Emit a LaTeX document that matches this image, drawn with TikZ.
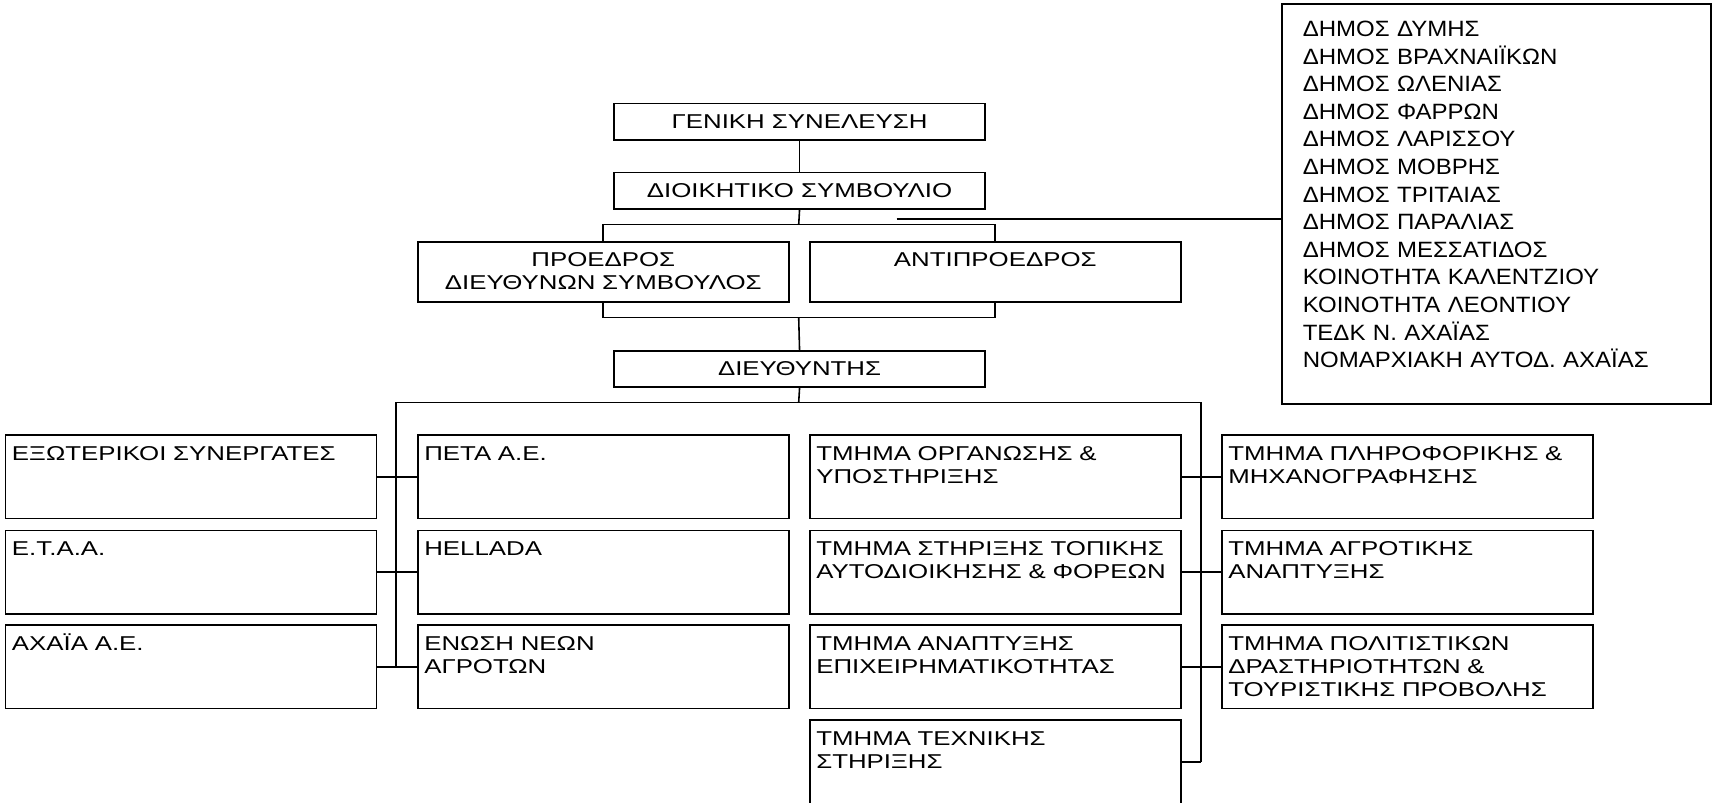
\documentclass[tikz,border=0pt]{standalone}
\usepackage{fontspec}
\setmainfont{Liberation Sans}
\newfontfamily\treefont{Liberation Sans}[FakeStretch=1.29]
\newfontfamily\listfont{Liberation Sans}[FakeStretch=1.085]
\usepackage{tikz}
\usetikzlibrary{positioning}

\begin{document}
\begin{tikzpicture}[
  x=0.02cm, y=-0.02cm,
  every node/.style={font=\treefont\fontsize{11.4}{13.2}\selectfont},
  box/.style={rectangle, draw=black, line width=0.9pt, fill=white,
              anchor=north west, inner sep=0pt},
  head/.style={box, minimum width=7.42cm, minimum height=0.73cm, align=center},
  chief/.style={box, text width=7.42cm, align=center,
                text height=0.5cm, text depth=0.7cm},
  dept/.style={box, inner xsep=0.13cm, text width=7.16cm, align=left,
               text height=0.5cm, text depth=1.17cm},
  members/.style={box, inner xsep=0.42cm, text width=7.74cm, align=left,
                  text height=0.65cm, text depth=7.35cm,
                  font=\listfont\fontsize{12.6}{15.7}\selectfont},
  conn/.style={draw=black, line width=0.9pt}
]
\useasboundingbox (0,0) rectangle (1712,803);

% --- Top of the hierarchy ---
\node[head] (gensyn) at (613.3,102.7) {ΓΕΝΙΚΗ ΣΥΝΕΛΕΥΣΗ};
\node[head] (dioik)  at (613.3,171.7) {ΔΙΟΙΚΗΤΙΚΟ ΣΥΜΒΟΥΛΙΟ};
\node[chief] (proedr) at (417,241) {ΠΡΟΕΔΡΟΣ\\ΔΙΕΥΘΥΝΩΝ ΣΥΜΒΟΥΛΟΣ};
\node[chief] (antipr) at (809,241) {ΑΝΤΙΠΡΟΕΔΡΟΣ};
\node[head] (dieuth) at (613.3,350) {ΔΙΕΥΘΥΝΤΗΣ};

% --- Shareholders ---
\node[members] (dimoi) at (1281,3.3) {ΔΗΜΟΣ ΔΥΜΗΣ\\ΔΗΜΟΣ ΒΡΑΧΝΑΙΪΚΩΝ\\ΔΗΜΟΣ ΩΛΕΝΙΑΣ\\ΔΗΜΟΣ ΦΑΡΡΩΝ\\ΔΗΜΟΣ ΛΑΡΙΣΣΟΥ\\ΔΗΜΟΣ ΜΟΒΡΗΣ\\ΔΗΜΟΣ ΤΡΙΤΑΙΑΣ\\ΔΗΜΟΣ ΠΑΡΑΛΙΑΣ\\ΔΗΜΟΣ ΜΕΣΣΑΤΙΔΟΣ\\ΚΟΙΝΟΤΗΤΑ ΚΑΛΕΝΤΖΙΟΥ\\ΚΟΙΝΟΤΗΤΑ ΛΕΟΝΤΙΟΥ\\ΤΕΔΚ Ν. ΑΧΑΪΑΣ\\ΝΟΜΑΡΧΙΑΚΗ ΑΥΤΟΔ. ΑΧΑΪΑΣ};

% --- Partners (left columns) ---
\node[dept] (exot)    at (4.7,434.3) {ΕΞΩΤΕΡΙΚΟΙ ΣΥΝΕΡΓΑΤΕΣ};
\node[dept] (etaa)    at (4.7,529.7) {Ε.Τ.Α.Α.};
\node[dept] (axaia)   at (4.7,624.3) {ΑΧΑΪΑ Α.Ε.};
\node[dept] (peta)    at (417,434.3) {ΠΕΤΑ Α.Ε.};
\node[dept] (hellada) at (417,529.7) {HELLADA};
\node[dept] (enosi)   at (417,624.3) {ΕΝΩΣΗ ΝΕΩΝ\\ΑΓΡΟΤΩΝ};

% --- Departments (right columns) ---
\node[dept] (organ)   at (809,434.3) {ΤΜΗΜΑ ΟΡΓΑΝΩΣΗΣ \&\\ΥΠΟΣΤΗΡΙΞΗΣ};
\node[dept] (stirixi) at (809,529.7) {ΤΜΗΜΑ ΣΤΗΡΙΞΗΣ ΤΟΠΙΚΗΣ\\ΑΥΤΟΔΙΟΙΚΗΣΗΣ \& ΦΟΡΕΩΝ};
\node[dept] (anapt)   at (809,624.3) {ΤΜΗΜΑ ΑΝΑΠΤΥΞΗΣ\\ΕΠΙΧΕΙΡΗΜΑΤΙΚΟΤΗΤΑΣ};
\node[dept] (texn)    at (809,719.3) {ΤΜΗΜΑ ΤΕΧΝΙΚΗΣ\\ΣΤΗΡΙΞΗΣ};
\node[dept] (plir)    at (1221,434.3) {ΤΜΗΜΑ ΠΛΗΡΟΦΟΡΙΚΗΣ \&\\ΜΗΧΑΝΟΓΡΑΦΗΣΗΣ};
\node[dept] (agrot)   at (1221,529.7) {ΤΜΗΜΑ ΑΓΡΟΤΙΚΗΣ\\ΑΝΑΠΤΥΞΗΣ};
\node[dept] (polit)   at (1221,624.3) {ΤΜΗΜΑ ΠΟΛΙΤΙΣΤΙΚΩΝ\\ΔΡΑΣΤΗΡΙΟΤΗΤΩΝ \&\\ΤΟΥΡΙΣΤΙΚΗΣ ΠΡΟΒΟΛΗΣ};

% --- Junctions ---
\coordinate (topT)   at (798.7,224.7);
\coordinate (botT)   at (798.7,317.7);
\coordinate (sideS)  at (896.7,219);
\coordinate (mainT)  at (798.7,402.3);
\coordinate (spineL) at (396,402.3);
\coordinate (spineR) at (1200.7,402.3);

% --- Connectors ---
\draw[conn] (gensyn) -- (dioik);
\draw[conn] (dioik.south) -- (topT);
\draw[conn] (proedr.north) |- (topT) -| (antipr.north);
\draw[conn] (proedr.south) |- (botT) -| (antipr.south);
\draw[conn] (botT) -- (dieuth.north);
\draw[conn] (sideS) -- (sideS -| dimoi.west);
\draw[conn] (dieuth.south) -- (mainT);
\draw[conn] (spineL) -- (spineR);
\draw[conn] (spineL) -- (spineL |- enosi.west);
\draw[conn] (spineR) -- (spineR |- texn.east);
\draw[conn] (exot.east)  -- (peta.west);
\draw[conn] (etaa.east)  -- (hellada.west);
\draw[conn] (axaia.east) -- (enosi.west);
\draw[conn] (organ.east)   -- (plir.west);
\draw[conn] (stirixi.east) -- (agrot.west);
\draw[conn] (anapt.east)   -- (polit.west);
\draw[conn] (texn.east)    -- (spineR |- texn.east);

\end{tikzpicture}
\end{document}
